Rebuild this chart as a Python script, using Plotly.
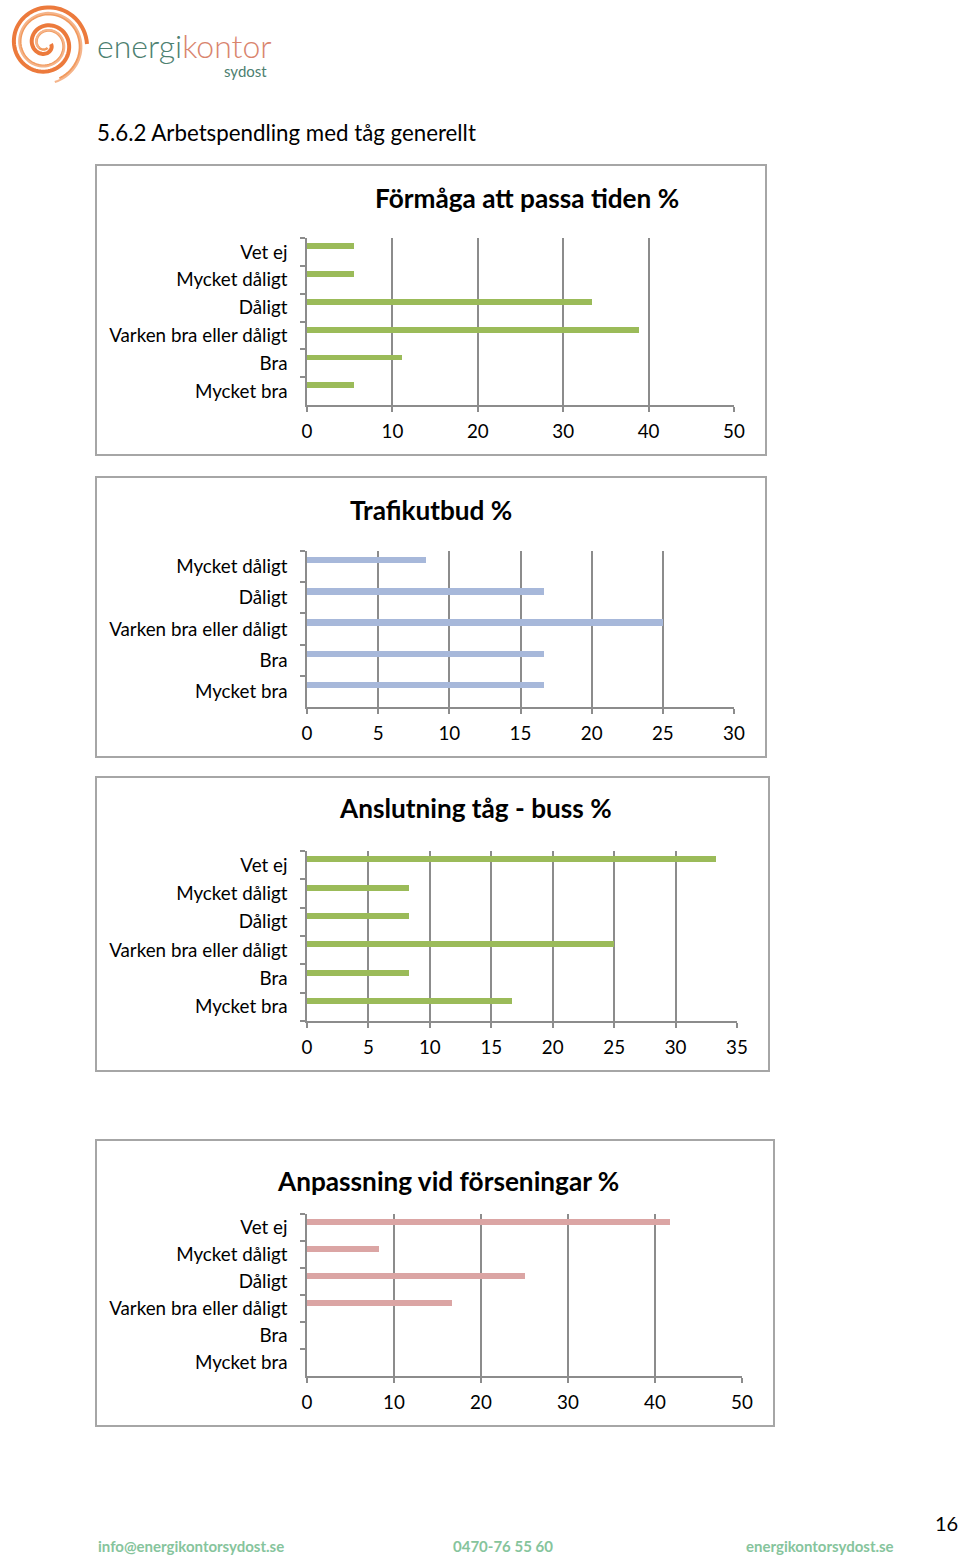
import numpy as np
import plotly.graph_objects as go

W, H = 960, 1560

# ---------------- data ----------------
cats6 = ["Mycket bra", "Bra", "Varken bra eller dåligt", "Dåligt", "Mycket dåligt", "Vet ej"]
cats5 = ["Mycket bra", "Bra", "Varken bra eller dåligt", "Dåligt", "Mycket dåligt"]

formaga_vals = [5.56, 11.11, 38.89, 33.33, 5.56, 5.56]
trafik_vals = [16.67, 16.67, 25.0, 16.67, 8.33]
anslutning_vals = [16.67, 8.33, 25.0, 8.33, 8.33, 33.33]
anpassning_vals = [0, 0, 16.67, 25.0, 8.33, 41.67]

titles = ["Förmåga att passa tiden %", "Trafikutbud %", "Anslutning tåg - buss %", "Anpassning vid förseningar %"]
xmax = [50, 30, 35, 50]
xdtick = [10, 5, 5, 10]

# ---------------- layout helpers ----------------
def px(x):
    return x / W

def py(y):
    return 1 - y / H

GREEN = "#9bbb59"
BLUE = "#a7b8da"
PINK = "#dba5a4"
GRID = "#8c8c8c"
FONT = "Lato"

charts = [
    dict(cats=cats6, vals=formaga_vals, color=GREEN, plot=(307, 734, 238, 405), title_xy=(527, 198),
         box=(96, 766, 165, 455)),
    dict(cats=cats5, vals=trafik_vals, color=BLUE, plot=(307, 734, 551, 707), title_xy=(431, 510),
         box=(96, 766, 477, 757)),
    dict(cats=cats6, vals=anslutning_vals, color=GREEN, plot=(307, 737, 851, 1021), title_xy=(475, 808),
         box=(96, 769, 777, 1071)),
    dict(cats=cats6, vals=anpassning_vals, color=PINK, plot=(307, 742, 1214, 1376), title_xy=(448, 1181),
         box=(96, 774, 1140, 1426)),
]

fig = go.Figure()
shapes = []
annotations = []

for i, c in enumerate(charts):
    n = i + 1
    xa = "x" if n == 1 else f"x{n}"
    ya = "y" if n == 1 else f"y{n}"
    fig.add_trace(go.Bar(
        x=c["vals"], y=c["cats"], orientation="h",
        marker=dict(color=c["color"], line=dict(width=0)),
        width=0.21, offset=0.1,
        xaxis=xa, yaxis=ya, showlegend=False, hoverinfo="x+y",
    ))
    x0, x1, y0, y1 = c["plot"]
    xkey = "xaxis" if n == 1 else f"xaxis{n}"
    ykey = "yaxis" if n == 1 else f"yaxis{n}"
    fig.update_layout(**{
        xkey: dict(
            domain=[px(x0), px(x1)], anchor=ya, range=[0, xmax[i]], dtick=xdtick[i], tick0=0,
            showgrid=True, gridcolor=GRID, gridwidth=1.5, zeroline=False,
            showline=True, linecolor=GRID, linewidth=1.5,
            ticks="outside", ticklen=5, tickcolor=GRID, tickwidth=1.5,
            tickfont=dict(family=FONT, size=18.8, color="#000000"),
            ticklabelstandoff=4, fixedrange=True, automargin=False,
        ),
        ykey: dict(
            domain=[py(y1), py(y0)], anchor=xa, type="category",
            categoryorder="array", categoryarray=c["cats"],
            range=[-0.5, len(c["cats"]) - 0.5],
            showgrid=False, zeroline=False,
            showline=True, linecolor=GRID, linewidth=1.5,
            ticks="outside", ticklen=5, tickcolor=GRID, tickwidth=1.5, tickson="boundaries",
            tickfont=dict(family=FONT, size=18.8, color="#000000"),
            ticklabelstandoff=14, fixedrange=True, automargin=False,
        ),
    })
    bx0, bx1, by0, by1 = c["box"]
    shapes.append(dict(type="rect", xref="paper", yref="paper",
                       x0=px(bx0), x1=px(bx1), y0=py(by1), y1=py(by0),
                       line=dict(color="#a6a6a6", width=2), fillcolor="rgba(0,0,0,0)", layer="below"))
    tx, ty = c["title_xy"]
    annotations.append(dict(text=f"<b>{titles[i]}</b>", xref="paper", yref="paper",
                            x=px(tx), y=py(ty), xanchor="center", yanchor="middle", showarrow=False,
                            font=dict(family=FONT, size=26.2, color="#000000")))

# heading
annotations.append(dict(text="5.6.2 Arbetspendling med tåg generellt", xref="paper", yref="paper",
                        x=px(95), y=py(132), xanchor="left", yanchor="middle", showarrow=False,
                        font=dict(family=FONT, size=22.3, color="#000000")))

# logo text
annotations.append(dict(
    text="<span style='color:#4d8070'>energi</span><span style='color:#d9846d'>kontor</span>",
    xref="paper", yref="paper", x=px(95), y=py(45), xanchor="left", yanchor="middle", showarrow=False,
    font=dict(family=FONT, size=32, color="#4d8070", weight=300)))
annotations.append(dict(text="sydost", xref="paper", yref="paper", x=px(269), y=py(71),
                        xanchor="right", yanchor="middle", showarrow=False,
                        font=dict(family=FONT, size=15, color="#4d8070")))

# logo spiral (decorative)
def spiral_path(cx, cy, r0, r1, t0, t1, steps=140):
    t = np.linspace(t0, t1, steps)
    r = np.linspace(r0, r1, steps)
    xs = cx + r * np.cos(t)
    ys = cy + r * np.sin(t)
    pts = [f"{px(x):.5f},{py(y):.5f}" for x, y in zip(xs, ys)]
    return "M " + " L ".join(pts)

cx, cy = 46, 44
for (r0, r1, t0, t1, w, col) in [
    (5, 41, 0.0, 4 * np.pi, 4.0, "#ec7a3c"),
    (4, 37, 1.2, 4 * np.pi + 1.2, 2.5, "#f19a5e"),
    (8, 39, 2.6, 3.6 * np.pi + 2.6, 2.0, "#f5b48a"),
]:
    shapes.append(dict(type="path", xref="paper", yref="paper",
                       path=spiral_path(cx, cy, r0, r1, t0, t1),
                       line=dict(color=col, width=w)))

# footer
FOOT = "#86c49c"
for text, x, anchor in [("info@energikontorsydost.se", 96, "left"),
                        ("0470-76 55 60", 451, "left"),
                        ("energikontorsydost.se", 896, "right")]:
    annotations.append(dict(text=f"<b>{text}</b>", xref="paper", yref="paper", x=px(x), y=py(1546),
                            xanchor=anchor, yanchor="middle", showarrow=False,
                            font=dict(family=FONT, size=15, color=FOOT)))
annotations.append(dict(text="16", xref="paper", yref="paper", x=px(960), y=py(1523),
                        xanchor="right", yanchor="middle", showarrow=False,
                        font=dict(family=FONT, size=20, color="#000000")))

fig.update_layout(
    template="none",
    width=W, height=H, margin=dict(l=0, r=0, t=0, b=0, autoexpand=False),
    paper_bgcolor="white", plot_bgcolor="white",
    shapes=shapes, annotations=annotations, bargap=0,
    font=dict(family=FONT),
)

fig.write_html("out.html")
